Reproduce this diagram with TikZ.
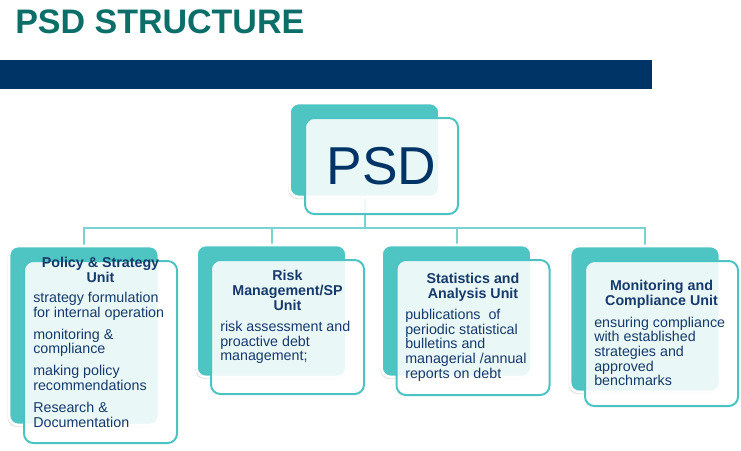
\documentclass[tikz,border=0pt]{standalone}
\usepackage{fontspec}
\setmainfont{Liberation Sans}
\usetikzlibrary{positioning, backgrounds, shadows}
\definecolor{tealhead}{HTML}{0B6E69}
\definecolor{navybar}{HTML}{003366}
\definecolor{navytext}{HTML}{163A6B}
\definecolor{tealback}{HTML}{4EC5C3}
\definecolor{tealline}{HTML}{4CC3C3}
\definecolor{tealconn}{HTML}{7AD3D3}

\begin{document}
\begin{tikzpicture}[x=0.75pt, y=-0.75pt]
  \tikzstyle{backbox}=[fill=tealback, draw=white, line width=2pt,
    rounded corners=7pt, minimum width=112.5pt,
    drop shadow={shadow xshift=-1pt, shadow yshift=-1.5pt, opacity=0.25}]
  \tikzstyle{frontbox}=[draw=tealline, line width=1.5pt, fill=white,
    fill opacity=0.88, text opacity=1, rounded corners=7pt,
    minimum width=114.75pt, inner sep=0pt]
  \tikzstyle{unithead}=[font=\fontsize{10.7}{11.3}\selectfont\bfseries,
    text=navytext, align=center, anchor=north, inner sep=0pt]
  \tikzstyle{unitbody}=[font=\fontsize{10.7}{11}\selectfont,
    text=navytext, align=left, anchor=north west, inner sep=0pt]
  \tikzstyle{conn}=[draw=tealconn, line width=1.5pt]

  \useasboundingbox (0,0) rectangle (741,450);

  % heading and bar
  \node[anchor=base west, inner sep=0pt, text=tealhead,
    font=\fontsize{25.5}{30}\selectfont\bfseries] (heading) at (15,33)
    {PSD STRUCTURE};
  \fill[navybar] (0,60) rectangle (652,89);

  % top box
  \node[backbox, minimum height=70.5pt] (back0) at (364.5,150) {};
  \node[frontbox, minimum height=72pt, text=navybar,
    font=\fontsize{40}{48}\selectfont] (front0) at (381.5,166) {PSD};

  % units
  \node[backbox, minimum height=134.25pt] (back1) at (84,335.5) {};
  \node[frontbox, minimum height=136.5pt] (front1) at (100.5,352) {};
  \node[unithead] (t1) at (100.5,257) {Policy \& Strategy\\Unit};
  \node[unitbody] (b1) at (33,292)
    {strategy formulation\\for internal operation\\[5.5pt]
     monitoring \&\\compliance\\[5.5pt]
     making policy\\recommendations\\[5.5pt]
     Research \&\\Documentation};

  \node[backbox, minimum height=99pt] (back2) at (271.5,311) {};
  \node[frontbox, minimum height=100.5pt] (front2) at (287.5,327) {};
  \node[unithead] (t2) at (287.5,270) {Risk\\Management/SP\\Unit};
  \node[unitbody] (b2) at (220,321)
    {risk assessment and\\proactive debt\\management;};

  \node[backbox, minimum height=99pt] (back3) at (456.5,311) {};
  \node[frontbox, minimum height=101.25pt] (front3) at (473,327.5) {};
  \node[unithead] (t3) at (473,273) {Statistics and\\Analysis Unit};
  \node[unitbody] (b3) at (405,309)
    {publications\ \ of\\periodic statistical\\bulletins and\\
     managerial /annual\\reports on debt};

  \node[backbox, minimum height=109.5pt] (back4) at (645,319) {};
  \node[frontbox, minimum height=108.75pt] (front4) at (661.5,333.5) {};
  \node[unithead] (t4) at (661.5,280) {Monitoring and\\Compliance Unit};
  \node[unitbody] (b4) at (594,316.5)
    {ensuring compliance\\with established\\strategies and\\approved\\benchmarks};

  % connectors
  \coordinate (bus) at (364.5,228);
  \begin{scope}[on background layer]
    \foreach \i in {1,...,4}
      \draw[conn] (back0.south) |- (bus -| back\i.north) -- (back\i.north);
  \end{scope}
\end{tikzpicture}
\end{document}
